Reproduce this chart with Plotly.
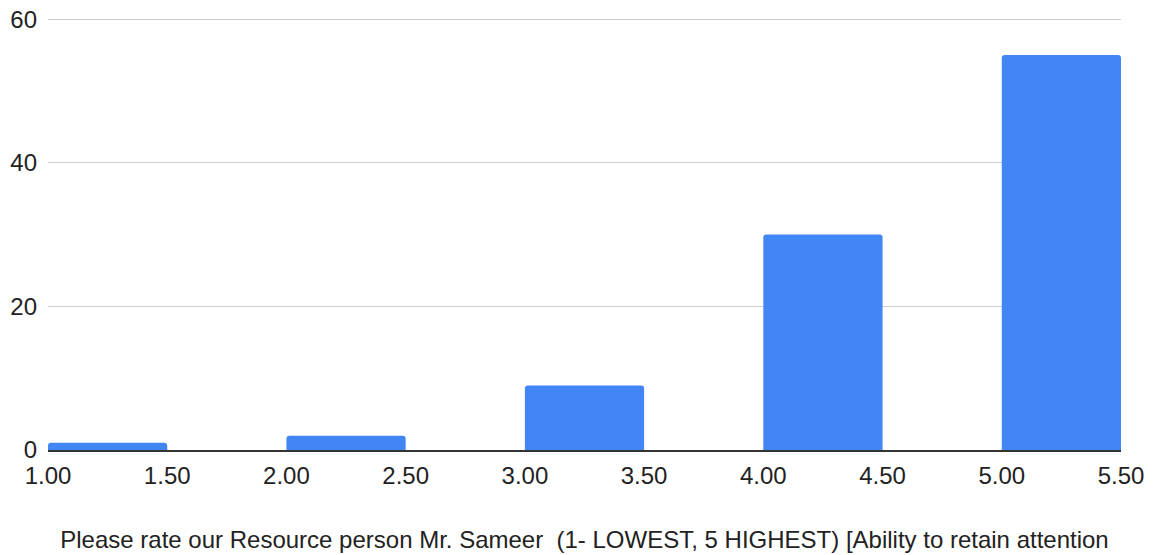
import plotly.graph_objects as go

bin_starts = [1.0, 2.0, 3.0, 4.0, 5.0]
bin_width = 0.5
counts = [1, 2, 9, 30, 55]
x_ticks = [1.0, 1.5, 2.0, 2.5, 3.0, 3.5, 4.0, 4.5, 5.0, 5.5]
y_ticks = [0, 20, 40, 60]
x_title = "Please rate our Resource person Mr. Sameer  (1- LOWEST, 5 HIGHEST) [Ability to retain attention"

centers = [s + bin_width / 2 for s in bin_starts]

fig = go.Figure(go.Bar(
    x=centers, y=counts, width=[bin_width] * len(counts),
    marker=dict(color="#4285F4", line=dict(width=0)),
))

font = dict(family="Liberation Sans, Arial, sans-serif", size=24, color="#222222")

fig.update_layout(
    width=1153, height=555,
    margin=dict(l=48, r=32, t=12, b=105),
    plot_bgcolor="white", paper_bgcolor="white",
    font=font,
    barcornerradius=3,
    showlegend=False,
    xaxis=dict(
        range=[1.0, 5.5], tickvals=x_ticks,
        ticktext=[f"{v:.2f}" for v in x_ticks],
        showgrid=False, zeroline=False,
        showline=True, linecolor="#333333", linewidth=2,
        ticks="", ticklen=0, ticklabelstandoff=3, automargin=False,
        ticklabeloverflow="allow",
        title=dict(text=x_title, standoff=43, font=dict(size=24, color="#222222")),
    ),
    yaxis=dict(
        range=[0, 61], tickvals=y_ticks,
        showgrid=True, gridcolor="#cccccc", gridwidth=1,
        zeroline=False, showline=False, ticks="", ticklen=0,
        ticklabelstandoff=10, automargin=False,
        ticklabeloverflow="allow",
    ),
)

fig.write_html(
    "out.html",
    config={"displayModeBar": False},
    post_script="document.body.style.margin='0';document.body.style.overflow='hidden';",
)
